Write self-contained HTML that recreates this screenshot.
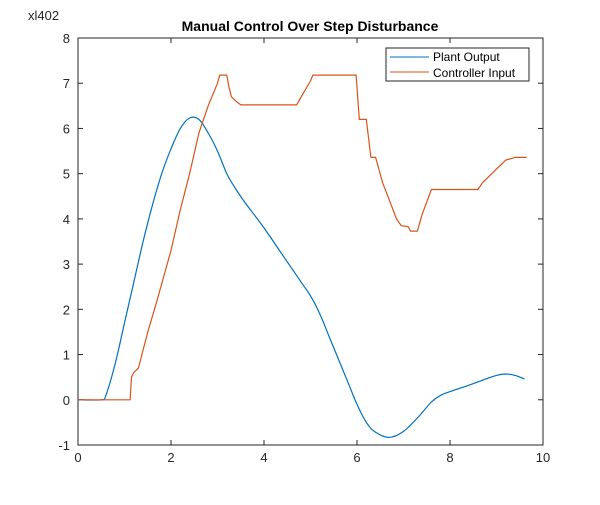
<!DOCTYPE html>
<html><head><meta charset="utf-8"><style>
body{margin:0;background:#fff;}
svg text{font-family:"Liberation Sans",sans-serif;}
</style></head><body>
<svg id="chart" width="600" height="500">
<rect width="600" height="500" fill="#fff"/>
<text x="28" y="20" font-size="13" fill="#262626">xl402</text>
<text x="310" y="31" font-size="14" font-weight="bold" text-anchor="middle" fill="#000">Manual Control Over Step Disturbance</text>
<g id="axes"></g>
<g id="series"></g>
<g>
<rect x="386" y="48" width="143" height="33" fill="#fff" stroke="#262626" stroke-width="1"/>
<line x1="390" y1="57" x2="429" y2="57" stroke="#0072bd"/>
<text x="433" y="61" font-size="12" fill="#000">Plant Output</text>
<line x1="390" y1="72" x2="429" y2="72" stroke="#d95319"/>
<text x="433" y="77" font-size="12" fill="#000">Controller Input</text>
</g>
</svg>
<script>
const xTicks=[0,2,4,6,8,10];
const yTicks=[-1,0,1,2,3,4,5,6,7,8];
const plantT=[0,0.5,0.6,0.8,1.0,1.2,1.4,1.6,1.8,2.0,2.2,2.4,2.6,2.8,3.0,3.2,3.4,3.6,4.0,4.4,4.8,5.0,5.2,5.4,5.6,5.8,6.0,6.2,6.4,6.7,7.0,7.3,7.6,7.8,8.0,8.4,8.8,9.0,9.2,9.4,9.6];
const plantY=[0,0,0.1,0.8,1.7,2.6,3.5,4.3,5.0,5.55,6.0,6.23,6.2,5.9,5.5,5.0,4.65,4.35,3.8,3.2,2.6,2.3,1.9,1.4,0.9,0.4,-0.1,-0.5,-0.72,-0.83,-0.7,-0.4,-0.05,0.1,0.18,0.32,0.47,0.54,0.57,0.54,0.46];
const ctrlT=[0,1.12,1.15,1.2,1.3,1.5,1.7,2.0,2.2,2.4,2.6,2.8,3.0,3.05,3.2,3.25,3.3,3.4,3.5,4.7,4.8,5.0,5.05,5.98,6.05,6.2,6.3,6.4,6.55,6.7,6.85,6.95,7.1,7.15,7.3,7.4,7.6,8.6,8.7,8.8,9.0,9.2,9.4,9.65];
const ctrlY=[0,0,0.5,0.6,0.7,1.5,2.2,3.3,4.2,5.0,5.9,6.5,7.0,7.18,7.18,6.9,6.7,6.6,6.52,6.52,6.7,7.05,7.18,7.18,6.2,6.2,5.36,5.36,4.8,4.4,4.0,3.85,3.83,3.73,3.73,4.1,4.65,4.65,4.8,4.9,5.1,5.3,5.36,5.36];
const L=78,R=543,T=38,B=445;
const sx=v=>L+(v-0)/(10-0)*(R-L);
const sy=v=>B-(v+1)/(8+1)*(B-T);
const NS="http://www.w3.org/2000/svg";
const ax=document.getElementById('axes');
function mk(tag,attrs,parent){const e=document.createElementNS(NS,tag);for(const k in attrs)e.setAttribute(k,attrs[k]);parent.appendChild(e);return e;}
const frame=mk('rect',{x:L,y:T,width:R-L,height:B-T,fill:'none',stroke:'#262626','stroke-width':1},ax);


xTicks.forEach(v=>{
  const x=sx(v);
  mk('line',{x1:x,y1:B,x2:x,y2:B-5,stroke:'#262626'},ax);
  mk('line',{x1:x,y1:T,x2:x,y2:T+5,stroke:'#262626'},ax);
  const t=mk('text',{x:x,y:B+17,'font-size':13,'text-anchor':'middle',fill:'#262626'},ax);
  t.textContent=v;
  
  
});
yTicks.forEach(v=>{
  const y=sy(v);
  mk('line',{x1:L,y1:y,x2:L+5,y2:y,stroke:'#262626'},ax);
  mk('line',{x1:R,y1:y,x2:R-5,y2:y,stroke:'#262626'},ax);
  const t=mk('text',{x:L-8,y:y+5,'font-size':13,'text-anchor':'end',fill:'#262626'},ax);
  t.textContent=v;
  
  
});
const sg=document.getElementById('series');
function path(ts,ys){return ts.map((t,i)=>(i?'L':'M')+sx(t).toFixed(1)+','+sy(ys[i]).toFixed(1)).join('');}
function smooth(ts,ys){
  const P=ts.map((t,i)=>[sx(t),sy(ys[i])]);
  let d='M'+P[0][0].toFixed(1)+','+P[0][1].toFixed(1);
  for(let i=0;i<P.length-1;i++){
    const p0=P[Math.max(0,i-1)],p1=P[i],p2=P[i+1],p3=P[Math.min(P.length-1,i+2)];
    const c1=[p1[0]+(p2[0]-p0[0])/6,p1[1]+(p2[1]-p0[1])/6];
    const c2=[p2[0]-(p3[0]-p1[0])/6,p2[1]-(p3[1]-p1[1])/6];
    d+='C'+c1.map(v=>v.toFixed(1)).join(',')+' '+c2.map(v=>v.toFixed(1)).join(',')+' '+p2.map(v=>v.toFixed(1)).join(',');
  }
  return d;
}
const p1=mk('path',{d:smooth(plantT,plantY),fill:'none',stroke:'#0072bd','stroke-width':1.2,'stroke-linejoin':'round'},sg);


const p2=mk('path',{d:path(ctrlT,ctrlY),fill:'none',stroke:'#d95319','stroke-width':1.2,'stroke-linejoin':'round'},sg);


</script>
</body></html>
